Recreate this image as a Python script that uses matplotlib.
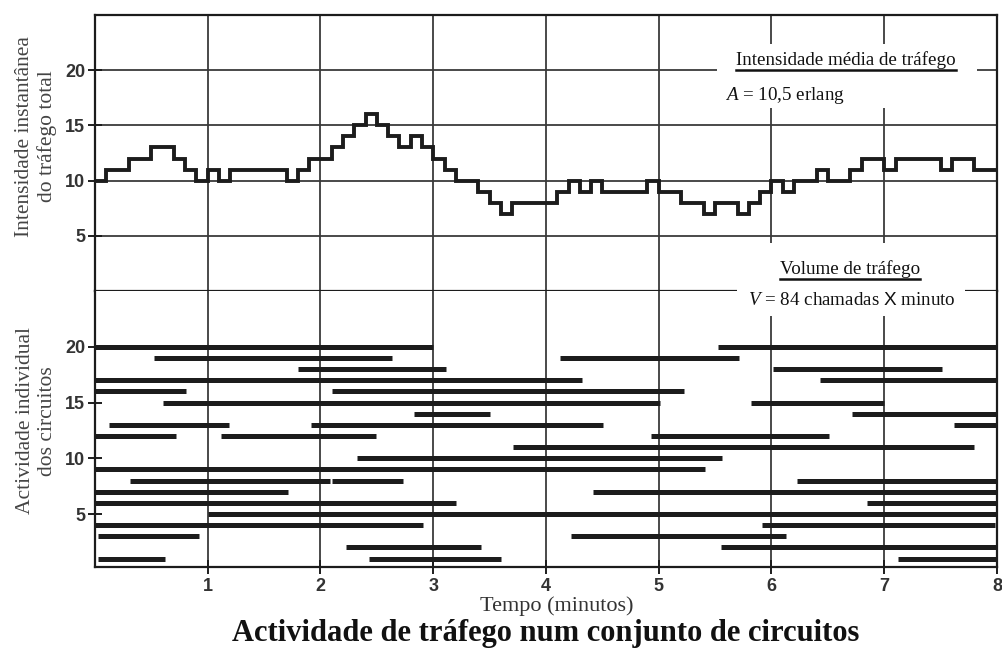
"""
Traffic activity on a group of 20 circuits over 8 minutes:
instantaneous total intensity (top) and per-circuit occupancy (bottom).
"""

import matplotlib

matplotlib.use("Agg")
import matplotlib.pyplot as plt
import numpy as np
from matplotlib.lines import Line2D
from matplotlib.patches import Rectangle

# instantaneous number of busy circuits, one value per 0.1 min
step_minutes = 0.1
intensity = [
    10, 11, 11, 12, 12, 13, 13, 12, 11, 10,
    11, 10, 11, 11, 11, 11, 11, 10, 11, 12,
    12, 13, 14, 15, 16, 15, 14, 13, 14, 13,
    12, 11, 10, 10, 9, 8, 7, 8, 8, 8,
    8, 9, 10, 9, 10, 9, 9, 9, 9, 10,
    9, 9, 8, 8, 7, 8, 8, 7, 8, 9,
    10, 9, 10, 10, 11, 10, 10, 11, 12, 12,
    11, 12, 12, 12, 12, 11, 12, 12, 11, 11,
]

# individual calls: circuit number, start and end time (minutes)
call_circuit = [
    20, 20, 19, 19, 18, 18, 17, 17, 16, 16,
    15, 15, 14, 14, 13, 13, 13, 12, 12, 12,
    11, 10, 9, 8, 8, 8, 7, 7, 6, 6,
    5, 4, 4, 3, 3, 2, 2, 1, 1, 1,
]
call_start = [
    0.00, 5.53, 0.52, 4.12, 1.80, 6.01, 0.00, 6.43, 0.00, 2.10,
    0.60, 5.82, 2.83, 6.71, 0.12, 1.92, 7.62, 0.00, 1.12, 4.93,
    3.71, 2.32, 0.00, 0.31, 2.10, 6.23, 0.00, 4.42, 0.00, 6.85,
    1.00, 0.00, 5.92, 0.03, 4.22, 2.23, 5.55, 0.03, 2.43, 7.12,
]
call_end = [
    3.00, 8.00, 2.63, 5.71, 3.11, 7.51, 4.32, 8.00, 0.81, 5.22,
    5.01, 7.00, 3.50, 8.00, 1.19, 4.51, 8.00, 0.72, 2.49, 6.51,
    7.80, 5.56, 5.41, 2.08, 2.73, 8.00, 1.71, 8.00, 3.20, 8.00,
    8.00, 2.91, 7.98, 0.92, 6.13, 3.42, 8.00, 0.62, 3.60, 8.00,
]

minute_ticks = [1, 2, 3, 4, 5, 6, 7, 8]
level_ticks = [5, 10, 15, 20]

INK = "#1c1c1c"
GRID = "#3a3a3a"
SERIF = "Liberation Serif"
SANS = "Liberation Sans"

plt.rcParams["font.family"] = SERIF
plt.rcParams["mathtext.fontset"] = "custom"
plt.rcParams["mathtext.rm"] = SERIF
plt.rcParams["mathtext.it"] = SERIF + ":italic"
plt.rcParams["mathtext.sf"] = SANS

fig = plt.figure(figsize=(10.02, 6.53), dpi=100)
ax_top = fig.add_axes([0.0948, 0.5544, 0.9002, 0.4226])
ax_bot = fig.add_axes([0.0948, 0.1317, 0.9002, 0.4227])

# top panel: total intensity as a staircase
edges = np.arange(len(intensity) + 1) * step_minutes
ax_top.stairs(intensity, edges, baseline=None, color=INK, linewidth=2.8, zorder=3)
ax_top.set_xlim(0, 8)
ax_top.set_ylim(0, 25)
ax_top.set_xticks(minute_ticks[:-1])
ax_top.set_yticks(level_ticks)
ax_top.tick_params(axis="x", length=0, labelbottom=False)
ax_top.grid(True, color=GRID, linewidth=1.3)

# bottom panel: one bar per call
ax_bot.hlines(call_circuit, call_start, call_end, color=INK, linewidth=3.6, zorder=3)
ax_bot.set_xlim(0, 8)
ax_bot.set_ylim(0.25, 25)
ax_bot.set_xticks(minute_ticks)
ax_bot.set_yticks(level_ticks)
ax_bot.grid(True, axis="x", color=GRID, linewidth=1.3)
ax_bot.spines["top"].set_visible(False)

for ax in (ax_top, ax_bot):
    for side in ax.spines.values():
        side.set_linewidth(1.6)
        side.set_color(INK)
    ax.tick_params(axis="y", direction="inout", length=10, width=1.4, pad=2,
                   labelsize=13, colors=INK)
    for lbl in ax.get_yticklabels():
        lbl.set_fontfamily(SANS)
        lbl.set_fontweight("bold")
        lbl.set_color("#333333")

ax_bot.tick_params(axis="x", direction="inout", length=10, width=1.4, pad=3,
                   labelsize=13, colors=INK)
for lbl in ax_bot.get_xticklabels():
    lbl.set_fontfamily(SANS)
    lbl.set_fontweight("bold")
    lbl.set_color("#333333")

ax_top.set_ylabel("Intensidade instantânea\ndo tráfego total", fontsize=15.5,
                  color="#444444", linespacing=1.2)
ax_top.yaxis.set_label_coords(-0.042, 0.56)
ax_bot.set_ylabel("Actividade individual\ndos circuitos", fontsize=15.5,
                  color="#444444", linespacing=1.2)
ax_bot.yaxis.set_label_coords(-0.042, 0.53)
ax_bot.set_xlabel("Tempo (minutos)", fontsize=16, color="#333333")
ax_bot.xaxis.set_label_coords(0.512, -0.105)

fig.text(0.545, 0.03, "Actividade de tráfego num conjunto de circuitos",
         ha="center", va="center", fontsize=22, fontweight="bold", color="#111111")

# white boxes that hold the annotations (hide grid underneath)
fig.add_artist(Rectangle((5.52, 16.6), 2.30, 5.8, transform=ax_top.transData,
                         facecolor="white", edgecolor="none", zorder=5, clip_on=False))
fig.add_artist(Rectangle((5.69, -2.27), 2.03, 6.63, transform=ax_top.transData,
                         facecolor="white", edgecolor="none", zorder=5, clip_on=False))

title_a = fig.text(6.66, 20.9, "Intensidade média de tráfego", transform=ax_top.transData,
                   ha="center", va="center", fontsize=13.7, color="#111111", zorder=6)
fig.text(5.59, 17.7, r"$A$ = 10,5 erlang", transform=ax_top.transData,
         ha="left", va="center", fontsize=13.7, color="#111111", zorder=6)
title_v = fig.text(6.70, 2.0, "Volume de tráfego", transform=ax_top.transData,
                   ha="center", va="center", fontsize=13.7, color="#111111", zorder=6)
fig.text(6.71, -0.9, r"$V$ = 84 chamadas $\mathsf{X}$ minuto", transform=ax_top.transData,
         ha="center", va="center", fontsize=13.7, color="#111111", zorder=6)

# underline the two annotation headings
fig.canvas.draw()
to_fig = fig.transFigure.inverted()
for txt in (title_a, title_v):
    bb = txt.get_window_extent()
    (x0, y0), (x1, _) = to_fig.transform([(bb.x0, bb.y0 - 1), (bb.x1, bb.y0)])
    fig.add_artist(Line2D([x0, x1], [y0, y0], transform=fig.transFigure,
                          color="#111111", linewidth=1.8, zorder=6))

fig.savefig("out.png", dpi=100)
